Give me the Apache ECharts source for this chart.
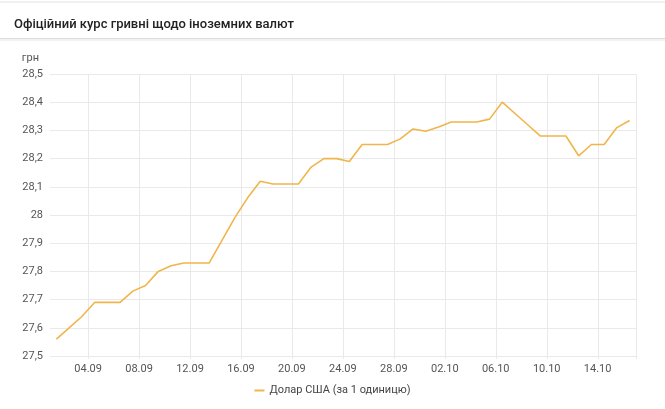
<!DOCTYPE html>
<html>
<head>
<meta charset="utf-8">
<script src="https://cdn.jsdelivr.net/npm/echarts@6/dist/echarts.min.js"></script>
<style>
  html, body { margin: 0; padding: 0; background: #fff; }
  #chart { width: 665px; height: 409px; }
</style>
</head>
<body>
<div id="chart"></div>
<script>
// дні 01.09 - 16.10
const dates = [
  '01.09', '02.09', '03.09', '04.09', '05.09', '06.09', '07.09', '08.09', '09.09', '10.09',
  '11.09', '12.09', '13.09', '14.09', '15.09', '16.09', '17.09', '18.09', '19.09', '20.09',
  '21.09', '22.09', '23.09', '24.09', '25.09', '26.09', '27.09', '28.09', '29.09', '30.09',
  '01.10', '02.10', '03.10', '04.10', '05.10', '06.10', '07.10', '08.10', '09.10', '10.10',
  '11.10', '12.10', '13.10', '14.10', '15.10', '16.10'
];
const usdRate = [
  27.56, 27.60, 27.64, 27.69, 27.69, 27.69, 27.73, 27.75, 27.80, 27.82,
  27.83, 27.83, 27.83, 27.91, 27.99, 28.06, 28.12, 28.11, 28.11, 28.11,
  28.17, 28.20, 28.20, 28.19, 28.25, 28.25, 28.25, 28.27, 28.305, 28.297,
  28.312, 28.33, 28.33, 28.33, 28.34, 28.40, 28.36, 28.32, 28.28, 28.28,
  28.28, 28.21, 28.25, 28.25, 28.31, 28.335
];
const seriesName = 'Долар США (за 1 одиницю)';
const chartTitle = 'Офіційний курс гривні щодо іноземних валют';

const gridColor = '#e9e9e9';
const labelColor = '#555';
const showEvery4 = (idx) => idx % 4 === 3;

const chart = echarts.init(document.getElementById('chart'));
chart.setOption({
  animation: false,
  textStyle: { fontFamily: 'Roboto' },
  title: {
    text: chartTitle,
    left: 9,
    top: 13,
    textStyle: { fontSize: 13, fontWeight: 500, color: '#222', fontFamily: 'Roboto' }
  },
  graphic: [
    { type: 'rect', shape: { x: 0, y: 1, width: 665, height: 2 }, style: { fill: '#f0f0f0' } },
    { type: 'rect', shape: { x: 0, y: 38, width: 665, height: 1 }, style: { fill: '#dcdcdc' } },
    { type: 'rect', shape: { x: 0, y: 39, width: 665, height: 2 }, style: { fill: '#f2f2f2' } }
  ],
  legend: {
    bottom: 8,
    left: 'center',
    icon: 'rect',
    itemWidth: 10,
    itemHeight: 2,
    itemGap: 10,
    textStyle: { fontSize: 11, color: '#444', fontFamily: 'Roboto' },
    data: [seriesName]
  },
  grid: { left: 50, right: 29, top: 74, bottom: 53 },
  xAxis: {
    type: 'category',
    data: dates,
    boundaryGap: true,
    axisLine: { show: false },
    axisTick: { show: true, interval: showEvery4, length: 3, lineStyle: { color: gridColor } },
    axisLabel: {
      interval: showEvery4,
      margin: 8,
      fontSize: 11,
      color: labelColor,
      padding: [0, 13, 0, 0]
    },
    splitLine: { show: true, interval: showEvery4, lineStyle: { color: gridColor } }
  },
  yAxis: {
    type: 'value',
    min: 27.5,
    max: 28.5,
    interval: 0.1,
    name: 'грн',
    nameLocation: 'end',
    nameGap: 10,
    nameTextStyle: { fontSize: 11, color: labelColor, align: 'right', padding: [0, 11, 0, 0] },
    axisLine: { show: false },
    axisTick: { show: false },
    axisLabel: {
      margin: 7,
      fontSize: 11,
      color: labelColor,
      formatter: (v) => String(+v.toFixed(1)).replace('.', ',')
    },
    splitLine: { lineStyle: { color: gridColor } }
  },
  series: [{
    name: seriesName,
    type: 'line',
    data: usdRate,
    showSymbol: false,
    symbol: 'none',
    lineStyle: { width: 1.6, color: '#F0B54B' },
    itemStyle: { color: '#F0B54B' }
  }]
});
</script>
</body>
</html>
